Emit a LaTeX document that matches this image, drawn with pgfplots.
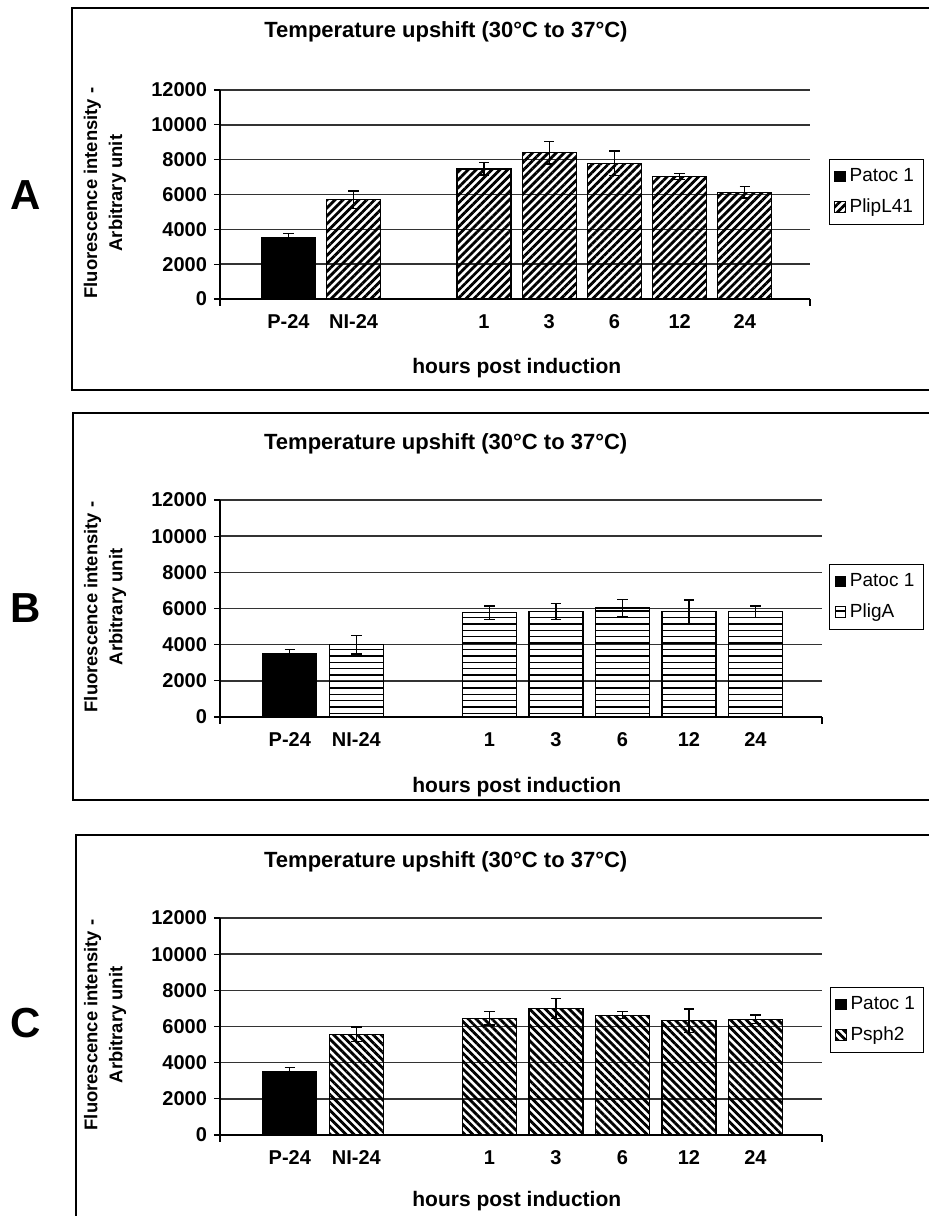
\documentclass[border=0pt]{standalone}
\usepackage{fontspec}
\setmainfont{Liberation Sans}
\usepackage{pgfplots}
\pgfplotsset{compat=1.18}
\usetikzlibrary{patterns.meta}

% horizontal rules that overrun the tile, so no seams show
\pgfdeclarepatternformonly{hrules}{\pgfpoint{-1pt}{-1pt}}{\pgfpoint{4.2pt}{4.2pt}}{\pgfpoint{3.2pt}{3.2pt}}{%
  \pgfsetlinewidth{0.7pt}%
  \pgfpathmoveto{\pgfpoint{-1pt}{1.6pt}}\pgfpathlineto{\pgfpoint{4.2pt}{1.6pt}}%
  \pgfusepath{stroke}}

% values (x: 0=P-24, 1=NI-24, 3..7 = 1,3,6,12,24 h)
\pgfplotstableread{
x y e
0 3500 250
}\patocA
\pgfplotstableread{
x y e
1 5700 500
3 7470 350
4 8400 650
5 7800 700
6 7030 190
7 6120 320
}\plipA
\pgfplotstableread{
x y e
0 3500 240
}\patocB
\pgfplotstableread{
x y e
1 4000 520
3 5770 370
4 5820 440
5 6030 450
6 5820 650
7 5830 310
}\pligB
\pgfplotstableread{
x y e
0 3500 240
}\patocC
\pgfplotstableread{
x y e
1 5570 400
3 6450 370
4 7000 570
5 6630 180
6 6320 650
7 6400 240
}\psphC

\newcommand\tickfont{\fontsize{10}{11}\selectfont\bfseries}
\pgfplotsset{
  panel/.style={
    scale only axis, anchor=south west, clip=false,
    xmin=-1.05, xmax=8, ymin=0, ymax=12000,
    axis x line*=bottom, axis y line*=left,
    axis line style={black, line width=0.6pt},
    ymajorgrids, grid style={black!80, line width=0.8pt},
    ytick={0,2000,...,12000}, scaled y ticks=false,
    yticklabels={0,2000,4000,6000,8000,10000,12000},
    xtick={0,1,3,4,5,6,7},
    xticklabels={P-24,NI-24,1,3,6,12,24},
    xtick style={draw=none},
    ytick style={black, line width=0.6pt},
    tick align=outside, major tick length=3pt,
    ticklabel style={font=\tickfont},
    xticklabel style={anchor=north, text height=7.2pt, text depth=0pt, yshift=-1pt},
    ybar, bar width=27pt,
    title={Temperature upshift (30°C to 37°C)},
    title style={font=\fontsize{11}{13}\selectfont\bfseries, anchor=center},
    xlabel={hours post induction},
    xlabel style={font=\fontsize{10.5}{12}\selectfont\bfseries, anchor=center},
    ylabel={Fluorescence intensity -\\Arbitrary unit},
    ylabel style={font=\fontsize{9.2}{12.5}\selectfont\bfseries, align=center, anchor=center},
    legend style={draw=black, line width=0.5pt, fill=white, anchor=west,
      font=\fontsize{9.5}{11}\selectfont, inner sep=2.5pt, row sep=3pt},
    legend cell align=left,
    legend image code/.code={\draw[#1, line width=0.4pt] (0pt,-2.6pt) rectangle (5.2pt,2.6pt);},
  },
  bars/.style={draw=black, line width=0.6pt, bar shift=0pt,
    error bars/y dir=both, error bars/y explicit,
    error bars/error bar style={black, line width=0.6pt},
    error bars/error mark options={rotate=90, mark size=2.6pt, black, line width=0.6pt}},
}

\begin{document}
\begin{tikzpicture}[x=0.5pt, y=-0.5pt]
\useasboundingbox (0,0) rectangle (928,1216);
\coordinate (oA) at (220,299);
\coordinate (oB) at (220,717);
\coordinate (oC) at (220,1135);

% ---- A ----
\draw[line width=1pt] (72,8) rectangle (950,390);
\node[font=\fontsize{21}{24}\selectfont\bfseries] at (26,195) {A};
\begin{axis}[panel, name=A, at={(oA)}, width=295pt, height=104.5pt,
    title style={at={(axis description cs:0.383,1.22)}},
    xlabel style={at={(axis description cs:0.503,-0.33)}},
    ylabel style={at={(axis description cs:-0.195,0.507)}},
    legend style={at={(1.032,0.512)}}]
  \addplot[bars, fill=black] table[x=x, y=y, y error=e] {\patocA};
  \addlegendentry{Patoc 1}
  \addplot[bars, fill=white, pattern={Lines[angle=45, distance=2.8pt, line width=1.4pt]}]
    table[x=x, y=y, y error=e] {\plipA};
  \addlegendentry{PlipL41}
\end{axis}
\draw[line width=0.6pt] (A.south west) -- ++(0,7) (A.south east) -- ++(0,7);

% ---- B ----
\draw[line width=1pt] (73,413) rectangle (950,800);
\node[font=\fontsize{21}{24}\selectfont\bfseries] at (26,608) {B};
\begin{axis}[panel, name=B, at={(oB)}, width=301pt, height=108.5pt,
    title style={at={(axis description cs:0.375,1.203)}},
    xlabel style={at={(axis description cs:0.493,-0.323)}},
    ylabel style={at={(axis description cs:-0.191,0.507)}},
    legend style={at={(1.012,0.553)}}]
  \addplot[bars, fill=black] table[x=x, y=y, y error=e] {\patocB};
  \addlegendentry{Patoc 1}
  \addplot[bars, fill=white, pattern=hrules]
    table[x=x, y=y, y error=e] {\pligB};
  \addlegendentry{PligA}
\end{axis}
\draw[line width=0.6pt] (B.south west) -- ++(0,7) (B.south east) -- ++(0,7);

% ---- C ----
\draw[line width=1pt] (76,835) rectangle (950,1240);
\node[font=\fontsize{21}{24}\selectfont\bfseries] at (26,1023) {C};
\begin{axis}[panel, name=C, at={(oC)}, width=301pt, height=108.5pt,
    title style={at={(axis description cs:0.375,1.205)}},
    xlabel style={at={(axis description cs:0.493,-0.305)}},
    ylabel style={at={(axis description cs:-0.191,0.507)}},
    legend style={at={(1.013,0.53)}}]
  \addplot[bars, fill=black] table[x=x, y=y, y error=e] {\patocC};
  \addlegendentry{Patoc 1}
  \addplot[bars, fill=white, pattern={Lines[angle=-45, distance=2.8pt, line width=1.4pt]}]
    table[x=x, y=y, y error=e] {\psphC};
  \addlegendentry{Psph2}
\end{axis}
\draw[line width=0.6pt] (C.south west) -- ++(0,7) (C.south east) -- ++(0,7);
\end{tikzpicture}
\end{document}
